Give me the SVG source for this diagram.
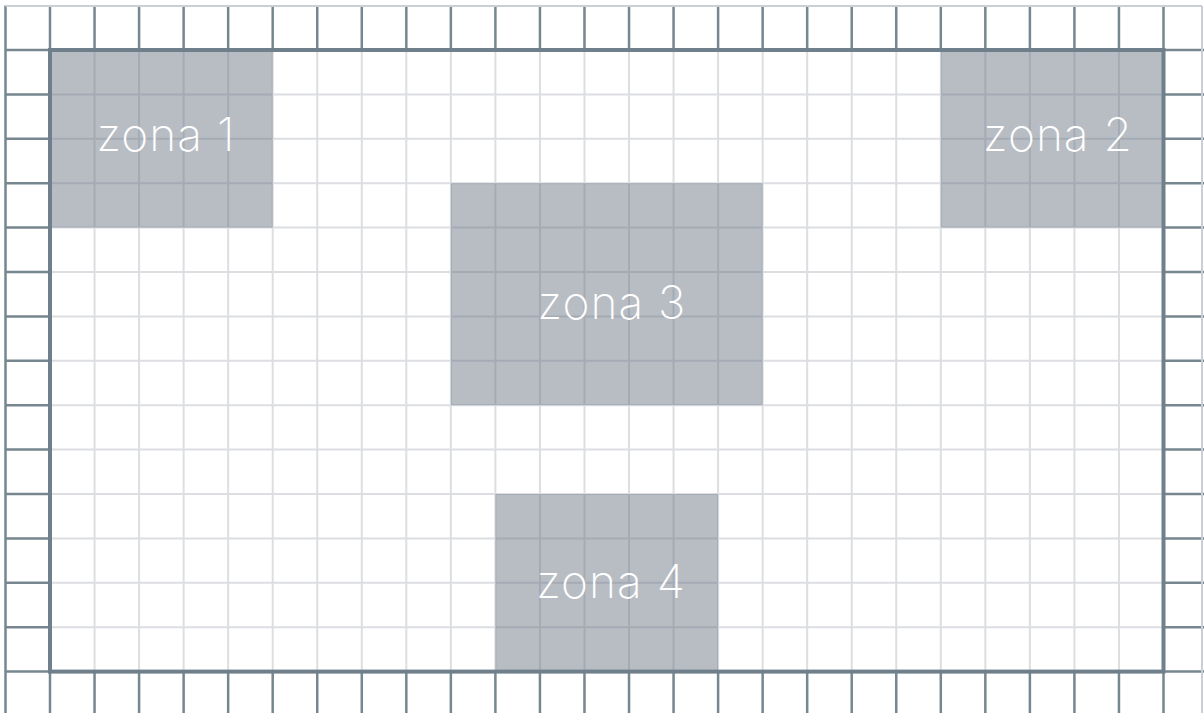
<svg xmlns="http://www.w3.org/2000/svg" width="1204" height="713" viewBox="0 0 1204 713">
  <style>
    .ring { fill: none; stroke: #76878f; stroke-width: 2.5; }
    .outer { fill: none; stroke: #c9cfd4; stroke-width: 2; }
    .inner { fill: none; stroke: #dcdee2; stroke-width: 2; }
    .border { fill: none; stroke: #6f808c; stroke-width: 4; }
    .zone rect { fill: #65707f; fill-opacity: 0.46; }
    .zone text { font-family: Inter, Lato, "Open Sans", "Liberation Sans", sans-serif; font-weight: 200; font-size: 46px; letter-spacing: 1px; fill: #ffffff; text-anchor: middle; }
  </style>
  <rect x="0" y="0" width="1204" height="713" fill="#ffffff"/>
  <g id="grid">
    <path class="ring" d="M5.5 5.5V713 M50 5.5V713 M94.54 5.5V713 M139.08 5.5V713 M183.62 5.5V713 M228.16 5.5V713 M272.7 5.5V713 M317.24 5.5V713 M361.78 5.5V713 M406.32 5.5V713 M450.86 5.5V713 M495.4 5.5V713 M539.94 5.5V713 M584.48 5.5V713 M629.02 5.5V713 M673.56 5.5V713 M718.1 5.5V713 M762.64 5.5V713 M807.18 5.5V713 M851.72 5.5V713 M896.26 5.5V713 M940.8 5.5V713 M985.34 5.5V713 M1029.88 5.5V713 M1074.42 5.5V713 M1118.96 5.5V713 M1163.5 5.5V713 M5.5 50H1204 M5.5 94.4H1204 M5.5 138.8H1204 M5.5 183.2H1204 M5.5 227.6H1204 M5.5 272H1204 M5.5 316.4H1204 M5.5 360.8H1204 M5.5 405.2H1204 M5.5 449.6H1204 M5.5 494H1204 M5.5 538.4H1204 M5.5 582.8H1204 M5.5 627.2H1204 M5.5 671.6H1204"/>
    <path class="outer" d="M5.5 6H1202 M1202 6V713"/>
    <rect x="50" y="50" width="1113.5" height="621.6" fill="#ffffff"/>
    <path class="inner" d="M94.54 50V671.6 M139.08 50V671.6 M183.62 50V671.6 M228.16 50V671.6 M272.7 50V671.6 M317.24 50V671.6 M361.78 50V671.6 M406.32 50V671.6 M450.86 50V671.6 M495.4 50V671.6 M539.94 50V671.6 M584.48 50V671.6 M629.02 50V671.6 M673.56 50V671.6 M718.1 50V671.6 M762.64 50V671.6 M807.18 50V671.6 M851.72 50V671.6 M896.26 50V671.6 M940.8 50V671.6 M985.34 50V671.6 M1029.88 50V671.6 M1074.42 50V671.6 M1118.96 50V671.6 M50 94.4H1163.5 M50 138.8H1163.5 M50 183.2H1163.5 M50 227.6H1163.5 M50 272H1163.5 M50 316.4H1163.5 M50 360.8H1163.5 M50 405.2H1163.5 M50 449.6H1163.5 M50 494H1163.5 M50 538.4H1163.5 M50 582.8H1163.5 M50 627.2H1163.5"/>
  </g>
  <g id="zona-1" class="zone">
    <rect x="50" y="50" width="222.7" height="177.6"/>
    <text x="166" y="151">zona 1</text>
  </g>
  <g id="zona-2" class="zone">
    <rect x="940.8" y="50" width="222.7" height="177.6"/>
    <text x="1058" y="151">zona 2</text>
  </g>
  <g id="zona-3" class="zone">
    <rect x="450.86" y="183.2" width="311.78" height="222"/>
    <text x="612" y="319">zona 3</text>
  </g>
  <g id="zona-4" class="zone">
    <rect x="495.4" y="494" width="222.7" height="177.6"/>
    <text x="611" y="598">zona 4</text>
  </g>
  <g id="connectors"></g>
  <rect class="border" x="50" y="50" width="1113.5" height="621.6"/>
</svg>
